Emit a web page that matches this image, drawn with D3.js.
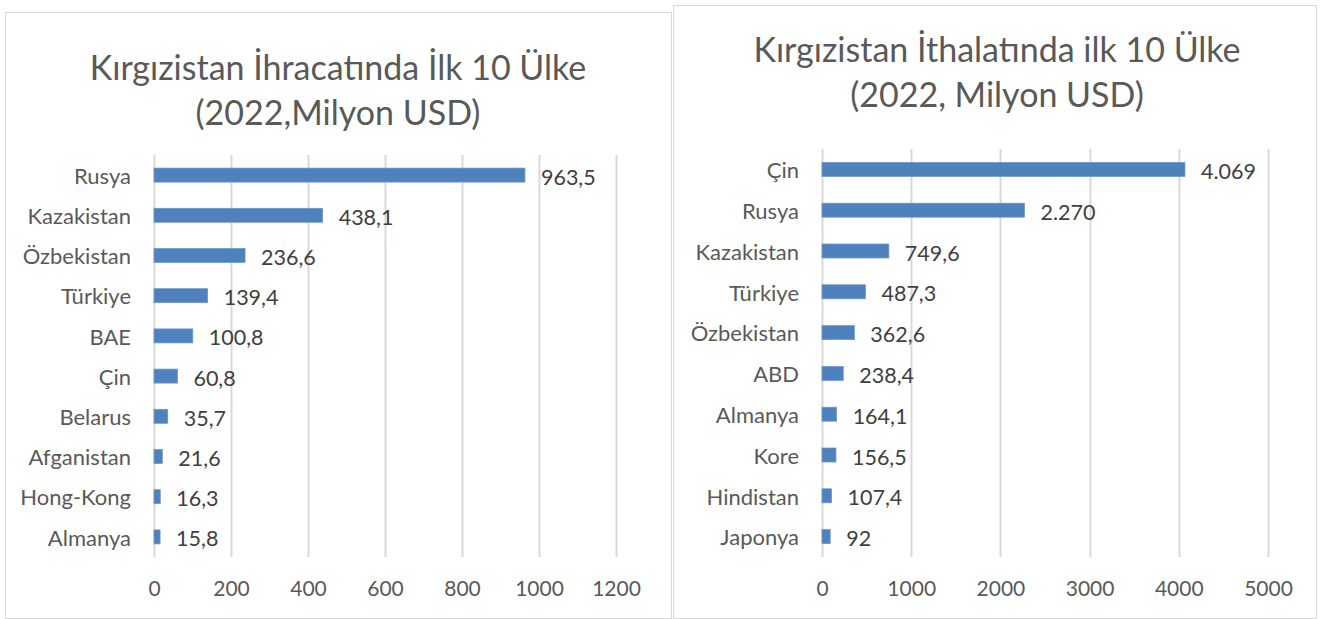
<!DOCTYPE html>
<html>
<head>
<meta charset="utf-8">
<script src="https://cdn.jsdelivr.net/npm/d3@7"></script>
<style>
  body { margin: 0; background: #fff; }
  svg text { font-family: Lato, "Open Sans", sans-serif; }
</style>
</head>
<body>
<svg id="chart" width="1322" height="619"></svg>
<script>
"use strict";

// left chart: exports
var exportCountries = ["Rusya", "Kazakistan", "Özbekistan", "Türkiye", "BAE", "Çin", "Belarus", "Afganistan", "Hong-Kong", "Almanya"];
var exportValues = [963.5, 438.1, 236.6, 139.4, 100.8, 60.8, 35.7, 21.6, 16.3, 15.8];
var exportTicks = [0, 200, 400, 600, 800, 1000, 1200];
var exportTitle = ["Kırgızistan İhracatında İlk 10 Ülke", "(2022,Milyon USD)"];

// right chart: imports
var importCountries = ["Çin", "Rusya", "Kazakistan", "Türkiye", "Özbekistan", "ABD", "Almanya", "Kore", "Hindistan", "Japonya"];
var importValues = [4069, 2270, 749.6, 487.3, 362.6, 238.4, 164.1, 156.5, 107.4, 92];
var importTicks = [0, 1000, 2000, 3000, 4000, 5000];
var importTitle = ["Kırgızistan İthalatında ilk 10 Ülke", "(2022, Milyon USD)"];

var trLocale = d3.formatLocale({ decimal: ",", thousands: ".", grouping: [3], currency: ["", ""] });
var fmt = trLocale.format(",~f");

var svg = d3.select("#chart");

function drawChart(opts) {
  var g = svg.append("g");

  // panel border
  g.append("rect")
    .attr("x", opts.box[0] + 0.5)
    .attr("y", opts.box[1] + 0.5)
    .attr("width", opts.box[2])
    .attr("height", opts.box[3])
    .style("fill", "#fff")
    .style("stroke", "#d9d9d9")
    .style("stroke-width", 1);

  var x = d3.scaleLinear()
    .domain([0, opts.ticks[opts.ticks.length - 1]])
    .range([opts.plot.left, opts.plot.right]);

  var y = d3.scaleBand()
    .domain(opts.countries)
    .range([opts.plot.top, opts.plot.bottom]);

  // gridlines
  g.selectAll("line.grid")
    .data(opts.ticks)
    .enter().append("line")
    .attr("class", "grid")
    .attr("x1", function (d) { return Math.round(x(d)) + 0.5; })
    .attr("x2", function (d) { return Math.round(x(d)) + 0.5; })
    .attr("y1", opts.plot.top)
    .attr("y2", opts.plot.bottom)
    .style("stroke", "#d9d9d9")
    .style("stroke-width", 2);

  // x axis tick labels
  var axis = d3.axisBottom(x).tickValues(opts.ticks).tickSize(0).tickPadding(0).tickFormat(d3.format("d"));
  var axisG = g.append("g")
    .attr("transform", "translate(0," + (opts.plot.bottom + 32) + ")")
    .call(axis);
  axisG.select(".domain").remove();
  axisG.selectAll("text")
    .attr("dy", "0.35em")
    .style("font-size", "21px")
    .style("fill", "#595959");

  // bars
  var barH = 14;
  g.selectAll("rect.bar")
    .data(opts.values)
    .enter().append("rect")
    .attr("class", "bar")
    .attr("x", x(0))
    .attr("y", function (d, i) { return y(opts.countries[i]) + y.bandwidth() / 2 - barH / 2; })
    .attr("width", function (d) { return x(d) - x(0); })
    .attr("height", barH)
    .style("fill", "#4f81bd")
    .style("stroke", "#6d97cb")
    .style("stroke-width", 0.75);

  // category labels
  g.selectAll("text.cat")
    .data(opts.countries)
    .enter().append("text")
    .attr("class", "cat")
    .attr("x", x(0) - 23)
    .attr("y", function (d) { return y(d) + y.bandwidth() / 2 + 1; })
    .attr("dy", "0.35em")
    .attr("text-anchor", "end")
    .style("font-size", "22px")
    .style("fill", "#595959")
    .text(function (d) { return d; });

  // value labels
  g.selectAll("text.val")
    .data(opts.values)
    .enter().append("text")
    .attr("class", "val")
    .attr("x", function (d) { return x(d) + 16; })
    .attr("y", function (d, i) { return y(opts.countries[i]) + y.bandwidth() / 2 + 2; })
    .attr("dy", "0.35em")
    .style("font-size", "21.5px")
    .style("fill", "#404040")
    .text(function (d) { return fmt(d); });

  // title
  var title = g.append("text")
    .attr("x", opts.titleX)
    .attr("y", opts.titleY)
    .attr("text-anchor", "middle")
    .style("font-size", "34px")
    .style("font-weight", 400)
    .style("fill", "#595959");
  opts.title.forEach(function (line, i) {
    title.append("tspan")
      .attr("x", opts.titleX)
      .attr("dy", i === 0 ? 0 : 45)
      .text(line);
  });
}

drawChart({
  box: [5, 12, 666, 606],
  plot: { left: 154, right: 616, top: 155, bottom: 557 },
  countries: exportCountries,
  values: exportValues,
  ticks: exportTicks,
  title: exportTitle,
  titleX: 338,
  titleY: 80
});

drawChart({
  box: [673, 5, 643, 613],
  plot: { left: 822, right: 1268, top: 149, bottom: 557 },
  countries: importCountries,
  values: importValues,
  ticks: importTicks,
  title: importTitle,
  titleX: 997,
  titleY: 62
});
</script>
</body>
</html>
